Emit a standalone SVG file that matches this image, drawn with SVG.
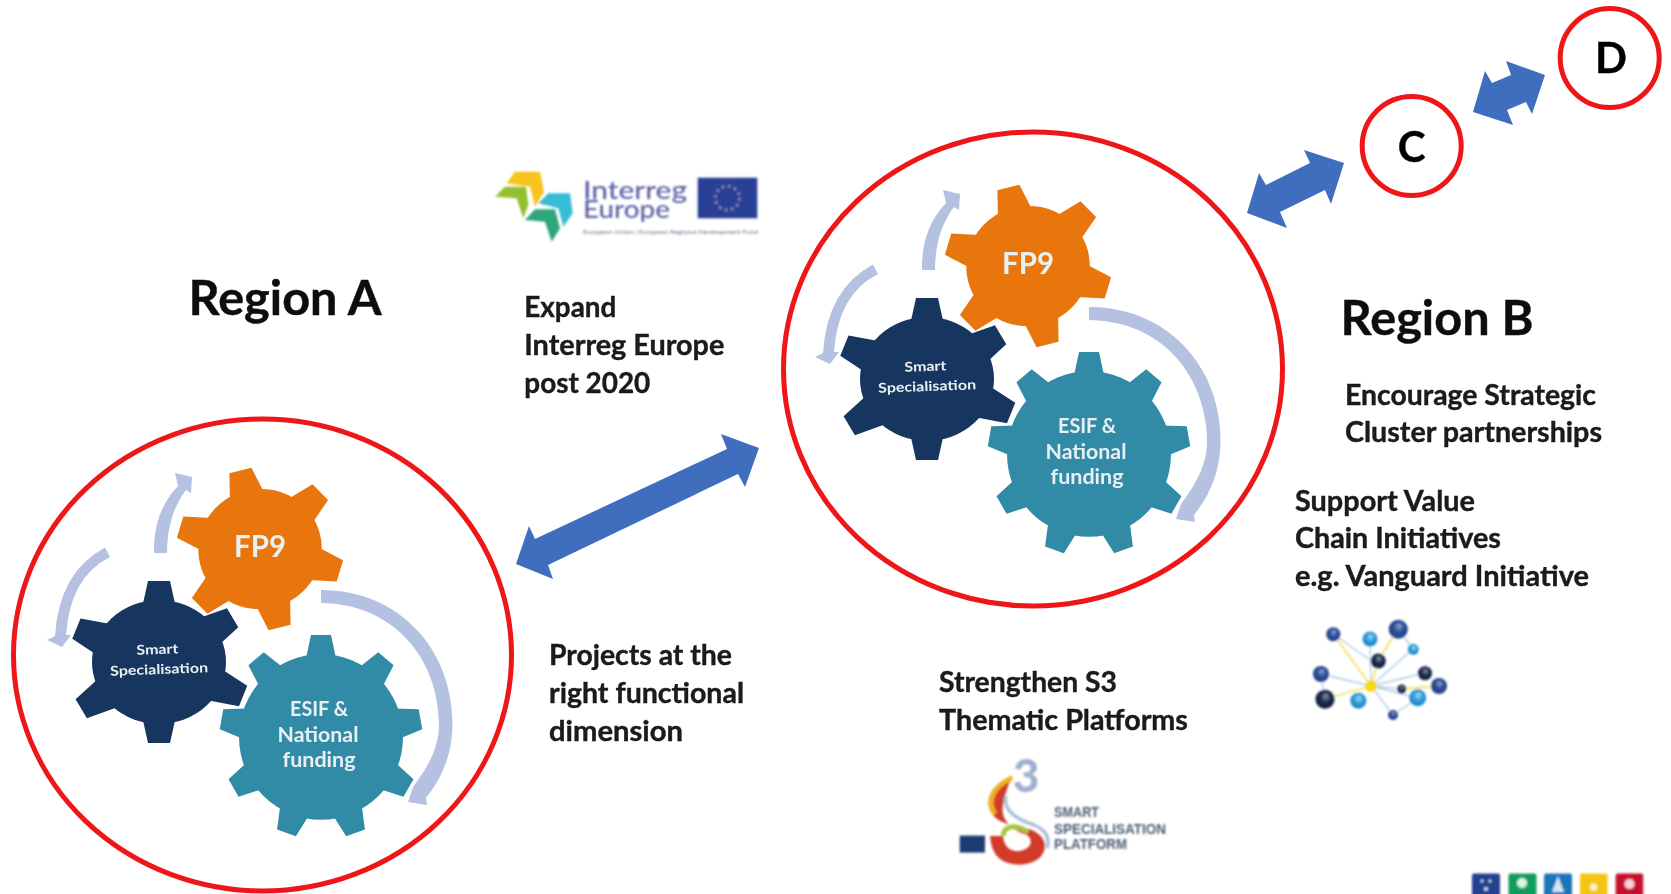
<svg xmlns="http://www.w3.org/2000/svg" width="1671" height="894" viewBox="0 0 1671 894">
<style>
.t{font-family:Lato,"Liberation Sans",sans-serif;font-weight:700;fill:#1a1a1a;stroke:#1a1a1a;stroke-width:.4}
.h{font-size:47px;fill:#0d0d0d;stroke:#0d0d0d}
.l{font-size:42px;fill:#000;stroke:#000}
.b{font-size:28.5px}
.ring{fill:none;stroke:#ee1419;stroke-width:5}
.g{font-family:Lato,"Liberation Sans",sans-serif;font-weight:700;fill:#e9f0f4}
.lt{fill:#b4c1e0}
.blue{fill:#3f6ebf}
.s3{font-family:"Liberation Sans",sans-serif;font-weight:700;font-size:15px;fill:#4d5d75}
.lg{font-family:Lato,sans-serif;font-weight:500;font-size:24px;fill:#5b5fa6}
</style>
<defs>
<filter id="soft" filterUnits="userSpaceOnUse" x="0" y="0" width="1671" height="894"><feGaussianBlur stdDeviation="0.55"/></filter>
<filter id="softer" filterUnits="userSpaceOnUse" x="0" y="0" width="1671" height="894"><feGaussianBlur stdDeviation="0.8"/></filter>
<radialGradient id="bd" cx=".5" cy=".5" r=".6" fx=".55" fy=".3"><stop offset="0" stop-color="#8fa6d0"/><stop offset=".45" stop-color="#2c4f97"/><stop offset="1" stop-color="#1a3a7c"/></radialGradient>
<radialGradient id="bl" cx=".5" cy=".5" r=".6" fx=".55" fy=".3"><stop offset="0" stop-color="#9fdcf5"/><stop offset=".5" stop-color="#2a9bd8"/><stop offset="1" stop-color="#1b7dbd"/></radialGradient>
<radialGradient id="bk" cx=".5" cy=".5" r=".6" fx=".55" fy=".3"><stop offset="0" stop-color="#8a94a8"/><stop offset=".45" stop-color="#1b2c4f"/><stop offset="1" stop-color="#0f1a30"/></radialGradient>
<path id="t6" d="M-17 -54L-11 -81L11 -81L17 -54Z"/>
<path id="t9" d="M-15 -78L-10 -101L10 -101L15 -78Z"/>
<g id="gear-fp"><circle r="60"/><use href="#t6"/><use href="#t6" transform="rotate(60)"/><use href="#t6" transform="rotate(120)"/><use href="#t6" transform="rotate(180)"/><use href="#t6" transform="rotate(240)"/><use href="#t6" transform="rotate(300)"/></g>
<g id="gear-smart"><ellipse rx="67" ry="62"/><use href="#t6"/><use href="#t6" transform="rotate(59) scale(1 1.06)"/><use href="#t6" transform="rotate(112) scale(1 1.12)"/><use href="#t6" transform="rotate(180)"/><use href="#t6" transform="rotate(239) scale(1 1.12)"/><use href="#t6" transform="rotate(292) scale(1 1.1)"/></g>
<g id="gear9"><circle r="82"/><use href="#t9"/><use href="#t9" transform="rotate(40)"/><use href="#t9" transform="rotate(80)"/><use href="#t9" transform="rotate(120)"/><use href="#t9" transform="rotate(160)"/><use href="#t9" transform="rotate(200)"/><use href="#t9" transform="rotate(240)"/><use href="#t9" transform="rotate(280)"/><use href="#t9" transform="rotate(320)"/></g>
<g id="cycle">
<path class="lt" d="M321 590C400 590 453 650 452.5 725C452 755 442 778 426 798L427 805L408 802L413 787C430 765 439 745 439 725C439 660 395 604 321 603Z"/>
<path class="lt" d="M105 547.5Q59 572 55 636L47 640L62 647L71 635L66 635Q70 577 110 557Z"/>
<path class="lt" d="M154 553Q153 512 178 486L175 473L192 477L191 493L186 490Q167 515 167 553Z"/>
<g fill="#e8760c"><use href="#gear-fp" transform="translate(260 549) rotate(-14) scale(1.03 1)"/></g>
<g fill="#17355f"><use href="#gear-smart" transform="translate(159 662)"/></g>
<g fill="#328ba6"><use href="#gear9" transform="translate(321 737) scale(1 1.01)"/></g>
<text class="g" x="260" y="557" font-size="31" text-anchor="middle" textLength="52" lengthAdjust="spacingAndGlyphs">FP9</text>
<g transform="rotate(-2 159 668)"><text class="g" x="158" y="654" font-size="13.5" text-anchor="middle" textLength="42" lengthAdjust="spacingAndGlyphs">Smart</text>
<text class="g" x="159" y="674" font-size="13.5" text-anchor="middle" textLength="98" lengthAdjust="spacingAndGlyphs">Specialisation</text></g>
<text class="g" x="319" y="716" font-size="21" text-anchor="middle" textLength="58" lengthAdjust="spacingAndGlyphs">ESIF &amp;</text>
<text class="g" x="318" y="742" font-size="21" text-anchor="middle" textLength="81" lengthAdjust="spacingAndGlyphs">National</text>
<text class="g" x="319" y="767" font-size="21" text-anchor="middle" textLength="73" lengthAdjust="spacingAndGlyphs">funding</text>
</g>
</defs>
<rect width="1671" height="894" fill="#fff"/>
<g filter="url(#soft)">
<g id="region-a"><ellipse class="ring" cx="262.5" cy="655" rx="249" ry="236"/><use href="#cycle"/></g>
<g id="region-b"><ellipse class="ring" cx="1033" cy="369" rx="249.5" ry="237"/><use href="#cycle" transform="translate(768 -283)"/></g>
<g id="node-c"><circle class="ring" cx="1411.7" cy="146" r="49.5"/><text class="t l" x="1411.7" y="162" text-anchor="middle">C</text></g>
<g id="node-d"><circle class="ring" cx="1609.7" cy="58" r="49.5"/><text class="t l" x="1611" y="73" text-anchor="middle">D</text></g>
<g id="connectors">
<polygon class="blue" points="759,448 721,434 727,449 535,539 529,526 516,564 553,579 548,565 738,474 745,487"/>
<polygon class="blue" points="1344,163 1304,150 1310,163 1266,185 1259,173 1247,213 1287,228 1280,212 1325,190 1331,204"/>
<polygon class="blue" points="1545,75 1506,61 1511,75 1492,83 1485,71 1473,112 1513,125 1507,110 1526,102 1532,114"/>
</g>
<g id="labels">
<text class="t h" x="188.5" y="315" textLength="193" lengthAdjust="spacingAndGlyphs">Region A</text>
<text class="t h" x="1340.5" y="335" textLength="193" lengthAdjust="spacingAndGlyphs">Region B</text>
<text class="t b" x="524.3" y="316.5" textLength="92" lengthAdjust="spacingAndGlyphs">Expand</text>
<text class="t b" x="524.3" y="355" textLength="200" lengthAdjust="spacingAndGlyphs">Interreg Europe</text>
<text class="t b" x="524.3" y="393" textLength="126" lengthAdjust="spacingAndGlyphs">post 2020</text>
<text class="t b" x="549" y="665" textLength="183" lengthAdjust="spacingAndGlyphs">Projects at the</text>
<text class="t b" x="549" y="703" textLength="195" lengthAdjust="spacingAndGlyphs">right functional</text>
<text class="t b" x="549" y="741" textLength="134" lengthAdjust="spacingAndGlyphs">dimension</text>
<text class="t b" x="939" y="691.5" textLength="178" lengthAdjust="spacingAndGlyphs">Strengthen S3</text>
<text class="t b" x="939" y="730" textLength="249" lengthAdjust="spacingAndGlyphs">Thematic Platforms</text>
<text class="t b" x="1345" y="404.5" textLength="251" lengthAdjust="spacingAndGlyphs">Encourage Strategic</text>
<text class="t b" x="1345" y="442" textLength="257" lengthAdjust="spacingAndGlyphs">Cluster partnerships</text>
<text class="t b" x="1295" y="510.5" textLength="180" lengthAdjust="spacingAndGlyphs">Support Value</text>
<text class="t b" x="1295" y="548" textLength="206" lengthAdjust="spacingAndGlyphs">Chain Initiatives</text>
<text class="t b" x="1295" y="585.5" textLength="294" lengthAdjust="spacingAndGlyphs">e.g. Vanguard Initiative</text>
</g>
</g>
<g id="logo-interreg" filter="url(#softer)">
<polygon fill="#f6c41f" points="506.7,183.3 515,171.7 540,171.7 544,191.7 535,206.7 530,186.7"/>
<polygon fill="#93c02f" points="495,196.7 505,186.7 526,186.7 528.3,205 523.3,218.3 516.7,198.3"/>
<polygon fill="#35bcd6" points="538.3,203.3 548.3,193.3 570,193.3 572.7,213.3 563.3,226.7 558.3,208.3"/>
<polygon fill="#2fa67c" points="525,220 535,209.3 555,209.3 560,228.3 551.7,241.7 545,221.7"/>
<text class="lg" x="583" y="199" textLength="104" lengthAdjust="spacingAndGlyphs">Interreg</text>
<text class="lg" x="583" y="218" textLength="87" lengthAdjust="spacingAndGlyphs">Europe</text>
<text x="583" y="234" font-family="Lato,sans-serif" font-size="6.5" fill="#6f7390" textLength="175" lengthAdjust="spacingAndGlyphs">European Union | European Regional Development Fund</text>
<rect x="697.7" y="177.7" width="59.6" height="40.6" fill="#2a3f97"/>
<circle cx="727.5" cy="198" r="12" fill="none" stroke="#8d93a8" stroke-width="2.5" stroke-dasharray="2.5 3.8"/>
</g>
<g id="logo-s3" filter="url(#softer)">
<rect x="959.7" y="835.6" width="25.3" height="17" fill="#1f3b73"/>
<text x="1026" y="792" text-anchor="middle" font-family="Lato,sans-serif" font-weight="900" font-size="46" fill="#9db0d0">3</text>
<path fill="#d23a2c" d="M1013 776C990 784 983 802 993 815C1002 826 1020 826 1032 830C1045 836 1048 846 1042 855C1034 866 1012 868 1000 859C993 853 991 845 990 836L1003 836C1004 848 1012 852 1020 851C1031 849 1034 840 1027 835C1012 830 1000 820 1003 805C1005 795 1008 784 1013 776Z"/>
<path d="M1012 778C993 786 986 802 995 814" fill="none" stroke="#f0b020" stroke-width="5"/>
<path d="M1003 836C1004 825 1016 824 1028 832" fill="none" stroke="#a0c840" stroke-width="5"/>
<path d="M1006 796C1002 810 1018 820 1034 825C1046 830 1050 838 1047 848" fill="none" stroke="#a8c0dc" stroke-width="3.5"/>
<text class="s3" x="1054" y="817" textLength="45" lengthAdjust="spacingAndGlyphs">SMART</text>
<text class="s3" x="1054" y="833.5" textLength="112" lengthAdjust="spacingAndGlyphs">SPECIALISATION</text>
<text class="s3" x="1054" y="849" textLength="73" lengthAdjust="spacingAndGlyphs">PLATFORM</text>
</g>
<g id="logo-network" filter="url(#softer)">
<g stroke="#a9cbe6" stroke-width="1.3" fill="none">
<path d="M1371 686L1370 639M1371 686L1413 649M1371 686L1321 674M1371 686L1425 673M1371 686L1401 689M1371 686L1418 698M1371 686L1393 715M1393 715L1418 698M1333 634L1370 660M1321 674L1325 699M1398 629L1413 649"/>
</g>
<g stroke="#f4dc6a" stroke-width="1.8" fill="none">
<path d="M1333 634L1371 686M1398 629L1378 661L1371 686M1371 686L1325 699M1401 689L1439 686"/>
</g>
<circle cx="1371" cy="686" r="6" fill="#f5d81c"/>
<circle cx="1333.3" cy="634.3" r="7" fill="url(#bd)"/>
<circle cx="1370" cy="639" r="7.5" fill="url(#bl)"/>
<circle cx="1398.3" cy="629.3" r="9.5" fill="url(#bd)"/>
<circle cx="1413.3" cy="649.3" r="5.5" fill="url(#bl)"/>
<circle cx="1378.3" cy="661" r="7.5" fill="url(#bk)"/>
<circle cx="1321" cy="674" r="8" fill="url(#bd)"/>
<circle cx="1425" cy="673.3" r="7" fill="url(#bk)"/>
<circle cx="1439" cy="686" r="8" fill="url(#bd)"/>
<circle cx="1401.7" cy="689" r="4.5" fill="url(#bk)"/>
<circle cx="1417.7" cy="697.7" r="8.5" fill="url(#bl)"/>
<circle cx="1358.3" cy="700.7" r="8" fill="url(#bl)"/>
<circle cx="1325" cy="699.3" r="9.5" fill="url(#bk)"/>
<circle cx="1393" cy="715" r="5" fill="url(#bd)"/>
</g>
<g id="logo-icons" filter="url(#softer)">
<rect x="1472" y="873.5" width="28" height="24" rx="2" fill="#21428f"/>
<rect x="1508.5" y="873.5" width="28" height="24" rx="2" fill="#0f9e5c"/>
<rect x="1544" y="873.5" width="28" height="24" rx="2" fill="#1f74b8"/>
<rect x="1580" y="873.5" width="27.5" height="24" rx="2" fill="#f5c518"/>
<rect x="1615.7" y="873.5" width="27.5" height="24" rx="2" fill="#c8102e"/>
<circle cx="1482" cy="881" r="1.6" fill="#cfd6ea"/><circle cx="1490" cy="881" r="1.6" fill="#cfd6ea"/><circle cx="1486" cy="889" r="2" fill="#cfd6ea"/>
<circle cx="1522" cy="883" r="5" fill="#dff3e8"/>
<path d="M1558 876L1564 892L1552 892Z" fill="#d6e6f4"/>
<circle cx="1593.5" cy="887" r="3.5" fill="#fff6c8"/>
<circle cx="1629.5" cy="884" r="5" fill="#f5d0d6"/>
</g>
</svg>
